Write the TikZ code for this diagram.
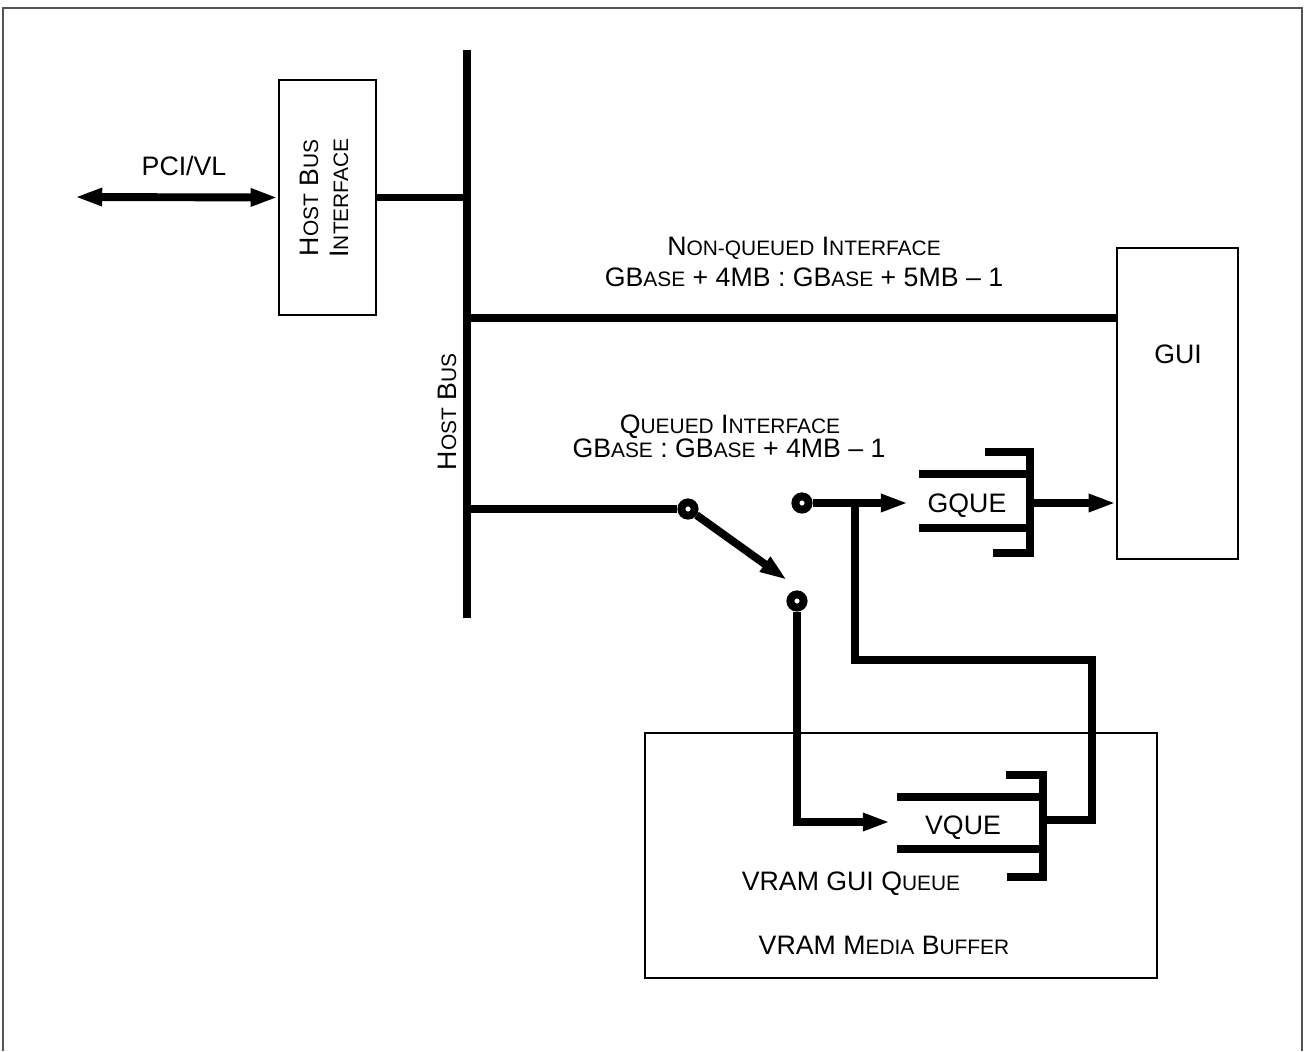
\documentclass[tikz,border=0pt]{standalone}
\usepackage{fontspec}
\setmainfont{Liberation Sans}
\usetikzlibrary{arrows.meta,positioning}
\definecolor{framegray}{RGB}{85,85,85}
\newcommand{\smc}[1]{{\fontsize{11.9}{14}\selectfont\MakeUppercase{#1}}}

\begin{document}
\begin{tikzpicture}[x=0.02cm,y=-0.02cm,>={Triangle[length=15.5pt,width=9.5pt]},
  bus/.style={line width=4.5pt},
  blockbox/.style={draw,line width=1.4pt,inner sep=0pt},
  contact/.style={circle,draw,line width=4.5pt,fill=white,inner sep=0pt,minimum size=7.5pt},
  lbl/.style={font=\fontsize{15.2}{19}\selectfont,inner sep=0pt,anchor=base}]
  \useasboundingbox (0,0) rectangle (1304,1051);

  % 外框
  \draw[framegray,line width=1.3pt] (3,1051) -- (3,8) -- (1302,8) -- (1302,1051);

  % Host bus
  \coordinate (bustop) at (467,50);
  \coordinate (busbot) at (467,618);
  \draw[bus] (bustop) -- (busbot);
  \node[font=\fontsize{15.2}{19}\selectfont,rotate=90] (hblbl) at (447,412) {H\smc{ost} B\smc{us}};

  % Host bus interface
  \node[blockbox,minimum width=1.94cm,minimum height=4.7cm] (hbi) at (327.5,197.5) {};
  \node[font=\fontsize{15.2}{17}\selectfont,rotate=90,align=center] (hbilbl) at (324,198)
    {H\smc{ost} B\smc{us}\\I\smc{nterface}};
  \coordinate (pciend) at (75,197);
  \draw[bus,<->] (pciend) -- (hbi.west);
  \node[lbl] (pci) at (184,175) {PCI/VL};
  \draw[bus] (hbi.east) -- (hbi.east -| bustop);

  % GUI
  \node[blockbox,minimum width=2.42cm,minimum height=6.22cm] (gui) at (1177.5,403.5) {};
  \node[lbl] (guilbl) at (1178,363) {GUI};

  % 非队列接口
  \coordinate (nqtap) at (467,318);
  \draw[bus] (nqtap) -- (nqtap -| gui.west);
  \node[lbl] (nqtitle) at (804,255) {N\smc{on-queued} I\smc{nterface}};
  \node[lbl] (nqrange) at (804,286) {GB\smc{ase} + 4MB : GB\smc{ase} + 5MB – 1};

  % 队列接口和开关
  \node[lbl] (qtitle) at (730,433) {Q\smc{ueued} I\smc{nterface}};
  \node[lbl] (qrange) at (729,457) {GB\smc{ase} : GB\smc{ase} + 4MB – 1};
  \coordinate (qtap) at (467,509);
  \node[contact] (sw) at (688,509) {};
  \draw[bus] (qtap) -- (sw);
  \coordinate (armtip) at (787,580);
  \draw[bus,->] (sw) -- (armtip);
  \node[contact] (gsw) at (802,503) {};
  \node[contact] (vsw) at (797,601) {};

  % GQUE
  \coordinate (gin) at (908,503);
  \coordinate (split) at (855,503);
  \draw[bus,->] (gsw) -- (gin);
  \draw[bus] (985,452) -- (1030,452) -- (1030,553) -- (993,553);
  \draw[bus] (919,474) -- (1030,474) (919,528) -- (1030,528);
  \node[lbl] (gque) at (967,512) {GQUE};
  \coordinate (gout) at (1030,503);
  \draw[bus,->] (gout) -- (gout -| gui.west);

  % VRAM media buffer
  \node[blockbox,minimum width=10.24cm,minimum height=4.9cm] (vram) at (901,855.5) {};
  \draw[bus] (1006,775) -- (1043,775) -- (1043,877) -- (1007,877);
  \draw[bus] (897,797) -- (1043,797) (897,849) -- (1043,849);
  \node[lbl] (vque) at (963,834) {VQUE};
  \coordinate (vin) at (890,822);
  \draw[bus,->] (vsw) -- (vsw |- vin) -- (vin);
  \coordinate (vout) at (1043,820);
  \draw[bus] (vout) -- (1092,820) -- (1092,660) -- (855,660) -- (split);
  \node[lbl] (vqlbl) at (851,890) {VRAM GUI Q\smc{ueue}};
  \node[lbl] (vramlbl) at (884,954) {VRAM M\smc{edia} B\smc{uffer}};
\end{tikzpicture}
\end{document}
